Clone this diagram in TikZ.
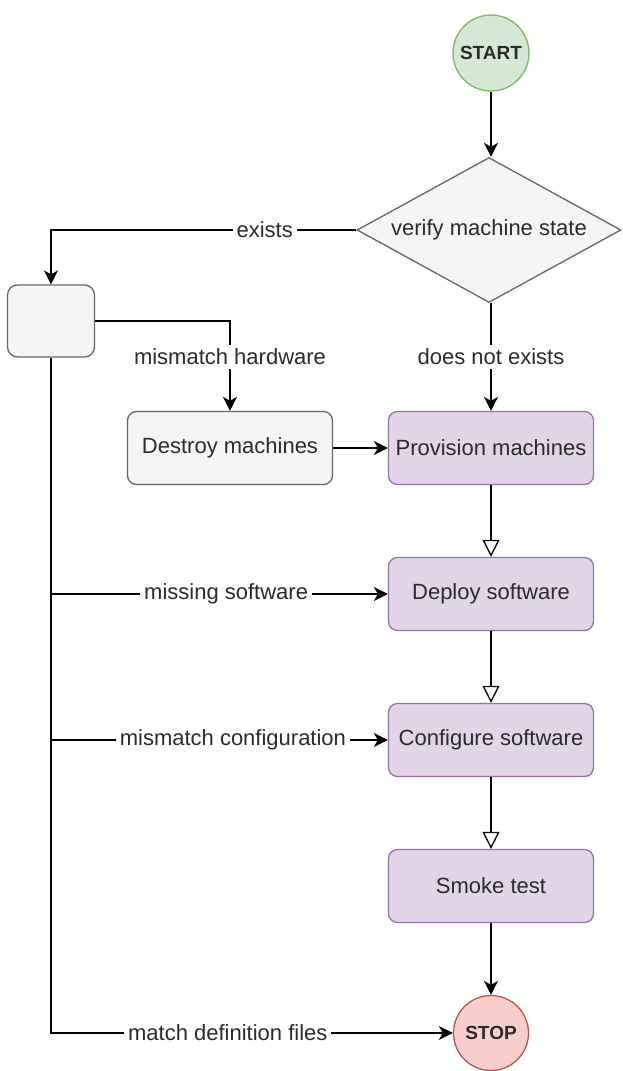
\documentclass[tikz,border=0pt]{standalone}
\usepackage{fontspec}
\setmainfont{Liberation Sans}
\usepackage{xcolor}
\usepackage{tikz}
\usetikzlibrary{positioning, arrows.meta, shapes.geometric}
\definecolor{startgreen}{HTML}{D5E8D4}
\definecolor{startline}{HTML}{82B366}
\definecolor{stopred}{HTML}{F8CECC}
\definecolor{stopline}{HTML}{B85450}
\definecolor{plaingrey}{HTML}{F5F5F5}
\definecolor{greyline}{HTML}{666666}
\definecolor{steppurple}{HTML}{E1D5E7}
\definecolor{purpleline}{HTML}{9673A6}
\definecolor{textgrey}{HTML}{2B2B2B}

\begin{document}
\begin{tikzpicture}[x=1pt, y=-1pt,
    every node/.style={font=\fontsize{22}{26}\selectfont, text=textgrey},
    stepbox/.style={draw=purpleline, fill=steppurple, line width=1.3pt, rounded corners=9pt,
      minimum width=205pt, minimum height=73pt, inner sep=0pt},
    greybox/.style={draw=greyline, fill=plaingrey, line width=1.3pt, rounded corners=9pt,
      minimum width=205pt, minimum height=73pt, inner sep=0pt},
    endpoint/.style={circle, line width=1.3pt, minimum size=76pt, inner sep=0pt,
      font=\fontsize{19}{22}\selectfont\bfseries},
    lbl/.style={fill=white, inner sep=4pt},
    arr/.style={line width=1.3pt, -{Stealth[length=14pt, width=14pt, inset=4pt]}},
    openarr/.style={line width=1.3pt, -{Triangle[open, length=17pt, width=17pt, fill=white]}}]
  \useasboundingbox (0,0) rectangle (622,1071);

  % start and decision
  \node[endpoint, draw=startline, fill=startgreen] (start) at (491,53) {START};
  \node[diamond, draw=greyline, fill=plaingrey, line width=1.3pt, inner sep=0pt,
        shape aspect=1.82, minimum width=264pt, minimum height=145pt] (verify) at (489,230) {verify machine state};

  % left column
  \node[greybox, minimum width=87pt, minimum height=72pt, rounded corners=10pt] (check) at (51,321) {};
  \node[greybox] (destroy) at (230,448) {Destroy machines};

  % main column
  \node[stepbox] (provision) at (491,448) {Provision machines};
  \node[stepbox] (deploy) at (491,594) {Deploy software};
  \node[stepbox] (configure) at (491,740) {Configure software};
  \node[stepbox] (smoke) at (491,886) {Smoke test};
  \node[endpoint, draw=stopline, fill=stopred, minimum size=75pt] (stop) at (491,1033) {STOP};

  % connectors
  \draw[arr] (start) -- (start |- verify.north);
  \draw[arr] (verify.west) -| node[lbl, pos=0.15] {exists} (check.north);
  \draw[arr] (verify.south -| provision) -- node[lbl] {does not exists} (provision);
  \draw[arr] (check.east) -| node[lbl, pos=0.7] {mismatch hardware} (destroy.north);
  \draw[arr] (destroy) -- (provision);
  \draw[openarr] (provision) -- (deploy);
  \draw[openarr] (deploy) -- (configure);
  \draw[openarr] (configure) -- (smoke);
  \draw[arr] (smoke) -- (stop);
  \draw[arr] (check.south) |- node[lbl, pos=0.76] {missing software} (deploy.west);
  \draw[arr] (check.south) |- node[lbl, pos=0.77] {mismatch configuration} (configure.west);
  \draw[arr] (check.south) |- node[lbl, pos=0.72] {match definition files} (stop.west);
\end{tikzpicture}
\end{document}
